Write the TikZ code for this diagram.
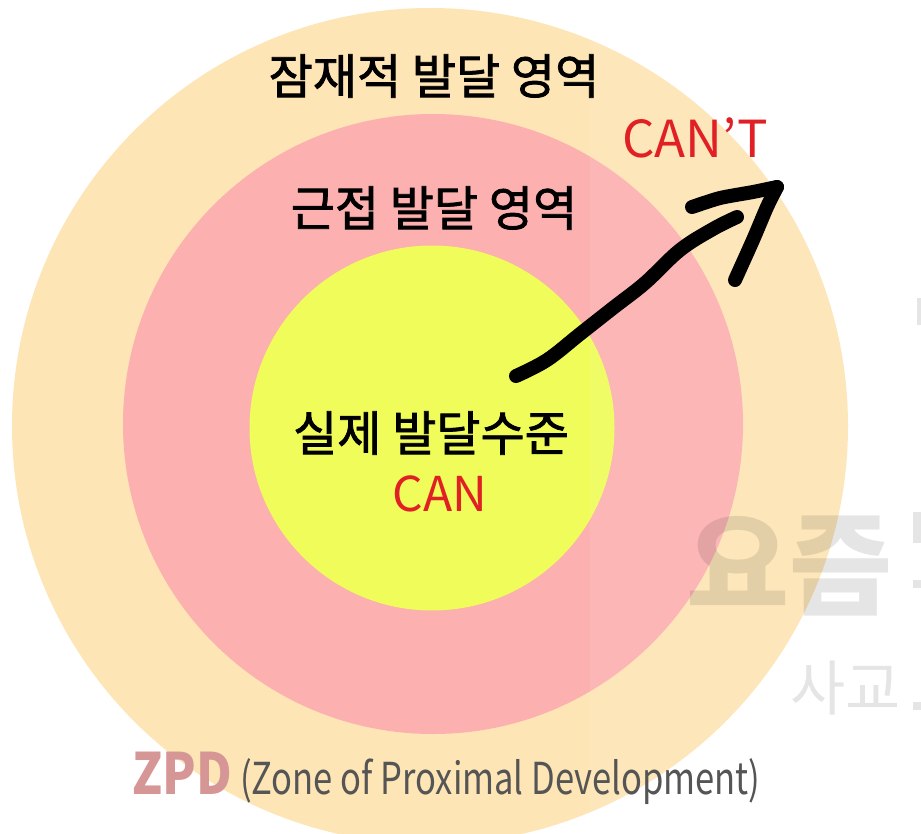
\documentclass[tikz,border=0pt]{standalone}
\usepackage{fontspec}
\newfontfamily\kr{Noto Sans CJK KR}
\newfontfamily\krm[FakeBold=1.6]{Noto Sans CJK KR}
\definecolor{outerc}{RGB}{253,229,181}
\definecolor{pinkc}{RGB}{252,176,175}
\definecolor{yelc}{RGB}{239,252,90}
\definecolor{redc}{RGB}{224,32,36}
\definecolor{zpdc}{RGB}{214,150,150}
\definecolor{grayt}{RGB}{85,85,85}
\tikzset{
  zone/.style={circle, inner sep=0pt, draw=none},
  kotext/.style={inner sep=0pt, font=\krm\fontsize{48}{48}\selectfont, text=black},
  redtext/.style={inner sep=0pt, text=redc},
  wmark/.style={inner sep=0pt, text=black, text opacity=0.1},
  stroke/.style={line width=14pt, line cap=round, line join=round, black}
}
\begin{document}
\begin{tikzpicture}[x=1pt,y=-1pt]
\useasboundingbox (0,0) rectangle (921,833);
\clip (0,0) rectangle (921,833);
\fill[white] (0,0) rectangle (921,833);
% zones
\node[zone, fill=outerc, minimum size=836pt] (outer) at (430,426) {};
\node[zone, fill=pinkc, minimum size=620pt] (mid) at (433,424) {};
\node[zone, fill=yelc, minimum size=365pt] (inner) at (432,428) {};
% seam
\fill[white, opacity=0.08] (590,0) rectangle (921,833);
% watermark
\node[wmark, anchor=west, font=\kr\bfseries\fontsize{112}{112}\selectfont] (wm1) at (686,566) {요즘};
\node[wmark, anchor=west, font=\kr\fontsize{60}{60}\selectfont] (wm2) at (790,688) {사교};
\fill[black, opacity=0.1] (913,512) rectangle (921,543);
\fill[black, opacity=0.1] (913,580) rectangle (921,588);
\fill[black, opacity=0.1] (913,702) rectangle (921,710);
\fill[black, opacity=0.1] (917,298) rectangle (921,325);
% texts
\node[kotext] (t1) at (434,76) {잠재적 발달 영역};
\node[kotext] (t2) at (434,208) {근접 발달 영역};
\node[kotext] (t3) at (431,433) {실제 발달수준};
\node[redtext, font=\kr\fontsize{48}{48}\selectfont] (can) at (440,494) {CAN};
\node[redtext, font=\kr\fontsize{51}{51}\selectfont] (cant) at (695,138) {CAN’T};
\node[inner sep=0pt, anchor=base west, text=zpdc, font=\kr\bfseries\fontsize{57}{57}\selectfont] (zpd) at (132,794) {\scalebox{0.86}[1]{ZPD}};
\node[inner sep=0pt, anchor=base west, text=grayt, font=\kr\fontsize{44}{44}\selectfont] (zone) at (240,794) {\scalebox{0.785}[1]{(Zone of Proximal Development)}};
% hand-drawn arrow
\coordinate (aS) at (516,376);
\coordinate (aE) at (737,217);
\coordinate (hA) at (692,207);
\coordinate (tip) at (777,187);
\coordinate (hB) at (735,280);
\draw[stroke] plot[smooth, tension=0.6] coordinates {(aS) (547,360) (580,334) (613,308) (645,283) (680,250) (713,229) (aE)};
\draw[stroke] plot[smooth, tension=0.4] coordinates {(hA) (720,198) (753,192) (tip)};
\draw[stroke] plot[smooth, tension=0.4] coordinates {(tip) (767,207) (753,240) (hB)};
\end{tikzpicture}
\end{document}
